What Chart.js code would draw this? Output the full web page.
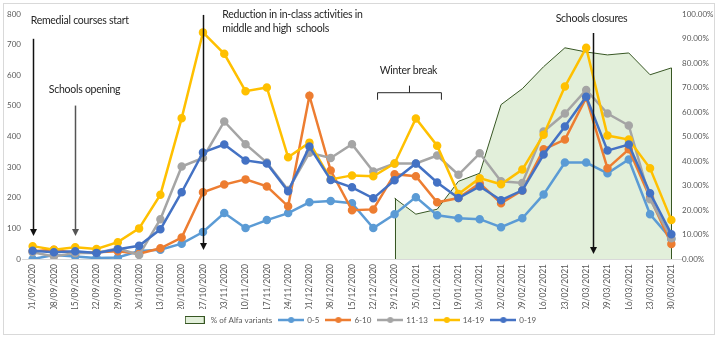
<!DOCTYPE html>
<html>
<head>
<meta charset="utf-8">
<script src="https://cdn.jsdelivr.net/npm/chart.js@4.4.0/dist/chart.umd.min.js"></script>
<style>
html,body{margin:0;padding:0;background:#fff;}
#wrap{position:relative;width:719px;height:340px;}
#frame{position:absolute;left:3px;top:3px;width:712px;height:332px;border:1px solid #d9d9d9;box-sizing:border-box;}
canvas{position:absolute;left:0;top:0;}
</style>
</head>
<body>
<div id="wrap"><div id="frame"></div><canvas id="c" width="719" height="340"></canvas></div>
<script>
const weeks = ['01/09/2020','08/09/2020','15/09/2020','22/09/2020','29/09/2020','06/10/2020','13/10/2020',
  '20/10/2020','27/10/2020','03/11/2020','10/11/2020','17/11/2020','24/11/2020','01/12/2020','08/12/2020',
  '15/12/2020','22/12/2020','29/12/2020','05/01/2021','12/01/2021','19/01/2021','26/01/2021','02/02/2021',
  '09/02/2021','16/02/2021','23/02/2021','02/03/2021','09/03/2021','16/03/2021','23/03/2021','30/03/2021'];

const age0_5   = [0,13,8,3,5,26,30,50,88,150,101,127,150,185,189,182,101,146,202,143,133,130,104,133,211,315,315,280,325,146,65];
const age6_10  = [25,30,20,22,25,17,35,70,218,243,260,237,172,533,289,159,162,277,270,185,199,247,182,224,358,390,527,296,358,200,49];
const age11_13 = [22,8,20,20,35,13,130,302,330,449,375,315,225,347,330,375,286,312,312,338,275,345,254,248,416,475,552,475,436,195,68];
const age14_19 = [42,30,38,33,55,100,210,460,740,670,548,560,332,380,260,273,270,312,459,370,212,264,244,292,406,563,690,403,390,296,127];
const age0_19  = [27,22,25,20,32,43,97,218,348,374,322,312,221,367,258,234,198,257,312,250,199,237,192,224,341,433,530,354,374,215,81];
const alfaPct  = [null,null,null,null,null,null,null,null,null,null,null,null,null,null,null,null,null,
  24.8,18.3,20.3,31.7,35,63,69.5,78.5,86.2,84.5,83.3,84.1,75.2,78];

const leftTicks  = [0,100,200,300,400,500,600,700,800];
const rightTicks = [0,10,20,30,40,50,60,70,80,90,100];

// annotations, placed in category index / left-axis value units
const notes = [
  {text:'Remedial courses start', i:0, v:780, align:'left'},
  {text:'Schools opening', i:0.85, v:553, align:'left'},
  {text:'Reduction in in-class activities in', i:9.0, v:797, align:'left', maxW:145},
  {text:'middle and high  schools', i:9.0, v:751, align:'left'},
  {text:'Winter break', i:17.65, v:615, align:'center'},
  {text:'Schools closures', i:26.25, v:784, align:'center'}
];
const arrows = [
  {i:0, from:719, to:75, color:'#111'},
  {i:2, from:501, to:75, color:'#555'},
  {i:8, from:797, to:29, color:'#111'},
  {i:26.3, from:738, to:16, color:'#111'}
];
const brace = {from:16.2, to:19.2, v:543, drop:520, peak:566};

const FONT = 'Lato, "Open Sans", sans-serif';
const TXT = '#595959';

function lineIcon(color) {
  const c = document.createElement('canvas'); c.width = 26; c.height = 8;
  const g = c.getContext('2d');
  g.strokeStyle = color; g.lineWidth = 2.5;
  g.beginPath(); g.moveTo(0,4); g.lineTo(26,4); g.stroke();
  g.fillStyle = color; g.beginPath(); g.arc(13,4,3,0,Math.PI*2); g.fill();
  return c;
}
function boxIcon() {
  const c = document.createElement('canvas'); c.width = 20; c.height = 8;
  const g = c.getContext('2d');
  g.fillStyle = '#e2efda'; g.fillRect(0,0,20,8);
  g.strokeStyle = '#375623'; g.lineWidth = 1; g.strokeRect(0.5,0.5,19,7);
  return c;
}

const colors = ['#5b9bd5','#ed7d31','#a5a5a5','#ffc000','#4472c4'];
const icons = [boxIcon(), ...colors.map(lineIcon)];

function ageSet(label, data, color, order) {
  return {
    label, data, order, yAxisID:'y',
    borderColor: color, backgroundColor: color,
    borderWidth: 2.5, pointRadius: 3, pointHoverRadius: 3,
    pointBackgroundColor: color, pointBorderColor: color, tension: 0
  };
}

const areaEdges = {
  id:'areaEdges',
  afterDatasetDraw(chart, args) {
    if (args.index !== 0) return;
    const ctx = chart.ctx, x = chart.scales.x, y1 = chart.scales.y1;
    const idx = alfaPct.map((v,i)=>v===null?-1:i).filter(i=>i>=0);
    ctx.save();
    ctx.strokeStyle = '#375623'; ctx.lineWidth = 1;
    [idx[0], idx[idx.length-1]].forEach(i => {
      const px = Math.round(x.getPixelForValue(i)) + 0.5;
      ctx.beginPath();
      ctx.moveTo(px, y1.getPixelForValue(0));
      ctx.lineTo(px, y1.getPixelForValue(alfaPct[i]));
      ctx.stroke();
    });
    ctx.restore();
  }
};

const notesPlugin = {
  id:'notes',
  afterDatasetsDraw(chart) {
    const ctx = chart.ctx, x = chart.scales.x, y = chart.scales.y;
    ctx.save();
    ctx.font = '10.5px Lato';
    ctx.letterSpacing = '-0.25px';
    ctx.fillStyle = '#262626';
    ctx.textBaseline = 'middle';
    notes.forEach(n => {
      ctx.textAlign = n.align;
      const px = x.getPixelForValue(n.i) - (n.align === 'left' ? 2 : 0);
      if (n.maxW) ctx.fillText(n.text, px, y.getPixelForValue(n.v), n.maxW);
      else ctx.fillText(n.text, px, y.getPixelForValue(n.v));
    });
    arrows.forEach(a => {
      const px = Math.round(x.getPixelForValue(a.i)) + 0.5;
      const y0 = y.getPixelForValue(a.from), y2 = y.getPixelForValue(a.to);
      ctx.strokeStyle = a.color; ctx.fillStyle = a.color; ctx.lineWidth = 1.5;
      ctx.beginPath(); ctx.moveTo(px, y0); ctx.lineTo(px, y2 - 6); ctx.stroke();
      ctx.beginPath(); ctx.moveTo(px - 3.5, y2 - 7); ctx.lineTo(px + 3.5, y2 - 7); ctx.lineTo(px, y2); ctx.closePath(); ctx.fill();
    });
    const bx0 = x.getPixelForValue(brace.from), bx1 = x.getPixelForValue(brace.to);
    const bm = (bx0 + bx1) / 2;
    const by = y.getPixelForValue(brace.v), bd = y.getPixelForValue(brace.drop), bp = y.getPixelForValue(brace.peak);
    ctx.strokeStyle = '#262626'; ctx.lineWidth = 1;
    ctx.beginPath();
    ctx.moveTo(bx0, bd); ctx.lineTo(bx0, by); ctx.lineTo(bx1, by); ctx.lineTo(bx1, bd);
    ctx.moveTo(bm, by); ctx.lineTo(bm, bp);
    ctx.stroke();
    ctx.restore();
  }
};

new Chart(document.getElementById('c'), {
  type:'line',
  data:{
    labels: weeks,
    datasets:[
      {
        label:'% of Alfa variants', data: alfaPct, yAxisID:'y1', order: 10,
        borderColor:'#375623', backgroundColor:'#e2efda', borderWidth:1,
        fill:'origin', pointRadius:0, pointHoverRadius:0, tension:0
      },
      ageSet('0-5', age0_5, colors[0], 5),
      ageSet('6-10', age6_10, colors[1], 4),
      ageSet('11-13', age11_13, colors[2], 3),
      ageSet('14-19', age14_19, colors[3], 2),
      ageSet('0-19', age0_19, colors[4], 1)
    ]
  },
  options:{
    responsive:false, animation:false,
    layout:{ padding:{left:4, right:4, top:14, bottom:6} },
    plugins:{
      tooltip:{enabled:false},
      legend:{
        position:'bottom',
        labels:{
          usePointStyle:true, pointStyleWidth:24, padding:7,
          color:TXT, font:{family:FONT, size:8},
          sort:(a,b)=>a.datasetIndex-b.datasetIndex,
          generateLabels: chart => Chart.defaults.plugins.legend.labels.generateLabels(chart)
            .map(it => ({...it, pointStyle: icons[it.datasetIndex]}))
        }
      }
    },
    scales:{
      x:{
        offset:true,
        grid:{display:true, color:'transparent', drawTicks:false},
        border:{display:true, color:'#d9d9d9'},
        ticks:{autoSkip:false, maxRotation:90, minRotation:90, color:TXT, font:{family:FONT, size:8.5}, padding:5},
        afterFit: s => { s.height = 50; }
      },
      y:{
        min:0, max:800, position:'left',
        grid:{display:false, drawTicks:false}, border:{display:false},
        afterBuildTicks: s => { s.ticks = leftTicks.map(v=>({value:v})); },
        ticks:{color:TXT, font:{family:FONT, size:8}, padding:1, autoSkip:false},
        afterFit: s => { s.width = 18; }
      },
      y1:{
        min:0, max:100, position:'right',
        grid:{display:false, drawTicks:false}, border:{display:false},
        afterBuildTicks: s => { s.ticks = rightTicks.map(v=>({value:v})); },
        ticks:{color:TXT, font:{family:FONT, size:8}, padding:0, autoSkip:false, callback: v => v.toFixed(2) + '%'},
        afterFit: s => { s.width = 33; }
      }
    }
  },
  plugins:[areaEdges, notesPlugin]
});
</script>
</body>
</html>
